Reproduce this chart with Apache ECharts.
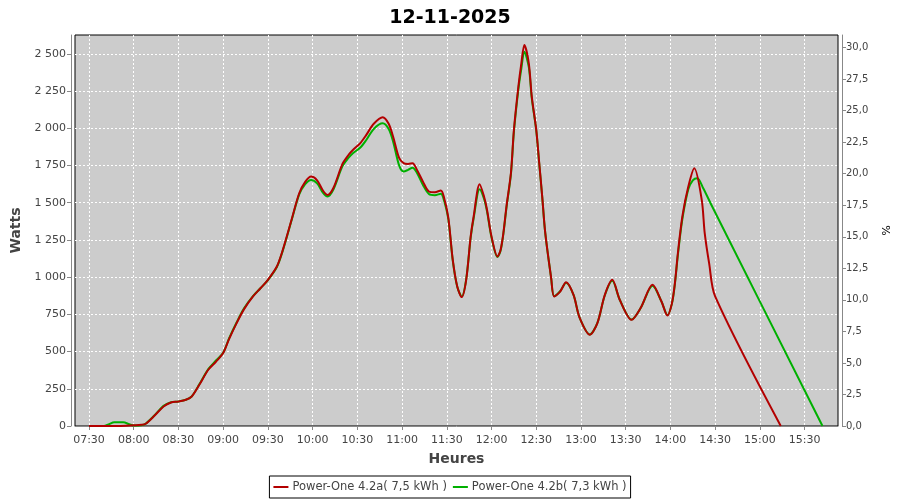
<!DOCTYPE html>
<html>
<head>
<meta charset="utf-8">
<script src="https://cdn.jsdelivr.net/npm/echarts@6/dist/echarts.min.js"></script>
<style>
  html, body { margin: 0; padding: 0; background: #fff; }
  #main { width: 900px; height: 500px; }
</style>
</head>
<body>
<div id="main"></div>
<script>
// time labels shown on the x axis
const tickTimes = ['07:30', '08:00', '08:30', '09:00', '09:30', '10:00', '10:30', '11:00', '11:30',
  '12:00', '12:30', '13:00', '13:30', '14:00', '14:30', '15:00', '15:30']
// left (Watts) and right (%) tick values
const wattTicks = [0, 250, 500, 750, 1000, 1250, 1500, 1750, 2000, 2250, 2500]
const pctTicks = [0, 2.5, 5, 7.5, 10, 12.5, 15, 17.5, 20, 22.5, 25, 27.5, 30]

// Power-One 4.2a (red)
const redTimes = ['07:30', '07:40', '07:50', '08:00', '08:05', '08:08', '08:14', '08:20', '08:25', '08:30',
  '08:35', '08:39', '08:44', '08:50', '08:55', '09:00', '09:04', '09:09', '09:14', '09:20',
  '09:25', '09:30', '09:36', '09:40', '09:46', '09:51', '09:55', '09:59', '10:03', '10:07',
  '10:10', '10:14', '10:20', '10:24', '10:27', '10:32', '10:36', '10:41', '10:47', '10:51',
  '10:54', '10:58', '11:01', '11:04', '11:07', '11:10', '11:14', '11:18', '11:22', '11:26',
  '11:28', '11:31', '11:34', '11:37', '11:40', '11:43', '11:46', '11:48', '11:52', '11:55',
  '11:57', '12:00', '12:04', '12:06', '12:08', '12:10', '12:13', '12:15', '12:18', '12:20',
  '12:22', '12:25', '12:27', '12:30', '12:32', '12:34', '12:36', '12:40', '12:42', '12:46',
  '12:50', '12:55', '12:59', '13:06', '13:11', '13:16', '13:21', '13:26', '13:34', '13:40',
  '13:48', '13:54', '13:58', '14:01', '14:03', '14:05', '14:08', '14:12', '14:16', '14:21',
  '14:23', '14:26', '14:30', '15:14']
const redWatts = [0, 0, 0, 5, 8, 15, 70, 131, 158, 165,
  176, 199, 277, 378, 430, 490, 585, 691, 785, 870,
  925, 982, 1071, 1183, 1390, 1563, 1640, 1675, 1650, 1580,
  1552, 1600, 1760, 1820, 1854, 1900, 1955, 2030, 2074, 2030,
  1943, 1800, 1765, 1760, 1765, 1720, 1641, 1575, 1570, 1581,
  1540, 1400, 1116, 937, 866, 982, 1272, 1407, 1624, 1540,
  1451, 1272, 1138, 1180, 1300, 1474, 1698, 1988, 2280, 2436,
  2559, 2436, 2212, 1989, 1765, 1541, 1300, 993, 870, 903,
  966, 881, 730, 613, 691, 881, 982, 848, 713, 792,
  948, 836, 742, 825, 960, 1161, 1407, 1608, 1731, 1519,
  1295, 1090, 870, 0]

// Power-One 4.2b (green)
const greenTimes = ['07:30', '07:40', '07:43', '07:47', '07:53', '07:57', '08:00', '08:05', '08:08', '08:14',
  '08:20', '08:25', '08:30', '08:35', '08:39', '08:44', '08:50', '08:55', '09:00', '09:04',
  '09:09', '09:14', '09:20', '09:25', '09:30', '09:36', '09:40', '09:46', '09:51', '09:55',
  '09:59', '10:03', '10:07', '10:10', '10:14', '10:20', '10:24', '10:27', '10:32', '10:36',
  '10:41', '10:47', '10:51', '10:54', '10:58', '11:01', '11:04', '11:07', '11:10', '11:14',
  '11:18', '11:22', '11:26', '11:28', '11:31', '11:34', '11:37', '11:40', '11:43', '11:46',
  '11:48', '11:52', '11:55', '11:57', '12:00', '12:04', '12:06', '12:08', '12:10', '12:13',
  '12:15', '12:18', '12:20', '12:22', '12:25', '12:27', '12:30', '12:32', '12:34', '12:36',
  '12:40', '12:42', '12:46', '12:50', '12:55', '12:59', '13:06', '13:11', '13:16', '13:21',
  '13:26', '13:34', '13:40', '13:48', '13:54', '13:58', '14:01', '14:03', '14:05', '14:08',
  '14:12', '14:15', '14:18', '14:22', '14:28', '15:42']
const greenWatts = [0, 0, 10, 25, 25, 12, 3, 5, 15, 72,
  135, 160, 165, 176, 200, 280, 382, 438, 492, 590,
  695, 790, 872, 925, 980, 1068, 1178, 1385, 1555, 1625,
  1653, 1630, 1565, 1541, 1590, 1745, 1800, 1832, 1870, 1921,
  1995, 2033, 1995, 1910, 1750, 1709, 1720, 1735, 1700, 1619,
  1558, 1550, 1560, 1520, 1390, 1110, 935, 870, 985, 1265,
  1395, 1590, 1525, 1440, 1265, 1135, 1175, 1295, 1465, 1690,
  1975, 2260, 2400, 2514, 2410, 2200, 1985, 1760, 1538, 1298,
  993, 872, 905, 962, 880, 730, 615, 692, 878, 975,
  848, 715, 792, 942, 836, 745, 822, 955, 1150, 1390,
  1590, 1650, 1664, 1597, 1474, 0]

const toMin = t => {
  const p = t.split(':')
  return +p[0] * 60 + +p[1]
}
const toLabel = m => {
  const h = Math.floor(m / 60)
  const mm = Math.round(m - h * 60)
  return String(h).padStart(2, '0') + ':' + String(mm).padStart(2, '0')
}
const pairs = (times, vals) => times.map((t, i) => [toMin(t), vals[i]])

const tickValues = tickTimes.map(toMin)
const axisColor = '#888'
const labelColor = '#444'
const font = 'DejaVu Sans'
const gridLine = {show: true, lineStyle: {color: '#fff', type: [2, 2], width: 1}}

const chart = echarts.init(document.getElementById('main'))
chart.setOption({
  animation: false,
  backgroundColor: '#fff',
  title: {
    text: '12-11-2025',
    left: 'center',
    top: 4,
    textStyle: {fontFamily: font, fontSize: 19, fontWeight: 'bold', color: '#000'}
  },
  legend: {
    bottom: 2,
    left: 'center',
    data: ['Power-One 4.2a( 7,5 kWh )', 'Power-One 4.2b( 7,3 kWh )'],
    icon: 'rect',
    itemWidth: 15,
    itemHeight: 2,
    itemGap: 6,
    padding: [5, 4],
    borderColor: '#000',
    borderWidth: 1,
    textStyle: {fontFamily: font, fontSize: 11.5, color: labelColor, padding: [0, 0, 0, -1]}
  },
  grid: {
    left: 75,
    top: 35,
    right: 62,
    bottom: 74,
    show: true,
    backgroundColor: '#cccccc',
    borderColor: '#000',
    borderWidth: 1
  },
  xAxis: {
    type: 'value',
    min: 440.6,
    max: 952.4,
    offset: 4,
    name: 'Heures',
    nameLocation: 'middle',
    nameGap: 22,
    nameTextStyle: {fontFamily: font, fontSize: 14, fontWeight: 'bold', color: labelColor},
    axisLine: {show: true, lineStyle: {color: axisColor}},
    axisTick: {show: true, length: 4, customValues: tickValues, lineStyle: {color: axisColor}},
    axisLabel: {
      customValues: tickValues,
      formatter: v => toLabel(v),
      fontFamily: font, fontSize: 11, color: labelColor, margin: 5
    },
    splitLine: gridLine
  },
  yAxis: [
    {
      type: 'value',
      min: 0,
      max: 2626,
      offset: 4,
      name: 'Watts',
      nameLocation: 'middle',
      nameGap: 39,
      nameRotate: 90,
      nameTextStyle: {fontFamily: font, fontSize: 14, fontWeight: 'bold', color: labelColor},
      axisLine: {show: true, lineStyle: {color: axisColor}},
      axisTick: {show: true, length: 4, customValues: wattTicks, lineStyle: {color: axisColor}},
      axisLabel: {
        customValues: wattTicks,
        formatter: v => String(v).replace(/\B(?=(\d{3})+(?!\d))/g, ' '),
        fontFamily: font, fontSize: 11, color: labelColor, margin: 5
      },
      splitLine: gridLine
    },
    {
      type: 'value',
      position: 'right',
      min: 0,
      max: 31,
      offset: 4,
      name: '%',
      nameLocation: 'middle',
      nameGap: 33,
      nameRotate: -90,
      nameTextStyle: {fontFamily: font, fontSize: 11, color: '#000'},
      axisLine: {show: true, lineStyle: {color: axisColor}},
      axisTick: {show: true, length: 4, customValues: pctTicks, lineStyle: {color: axisColor}},
      axisLabel: {
        customValues: pctTicks,
        formatter: v => v.toFixed(1).replace('.', ','),
        fontFamily: font, fontSize: 10, color: labelColor, margin: 4
      },
      splitLine: {show: false}
    }
  ],
  series: [
    {
      name: 'Power-One 4.2a( 7,5 kWh )',
      type: 'line',
      z: 3,
      data: pairs(redTimes, redWatts),
      smooth: 0.3,
      showSymbol: false,
      color: '#b30000',
      lineStyle: {width: 2, color: '#b30000'}
    },
    {
      name: 'Power-One 4.2b( 7,3 kWh )',
      type: 'line',
      z: 2,
      data: pairs(greenTimes, greenWatts),
      smooth: 0.3,
      showSymbol: false,
      color: '#00b000',
      lineStyle: {width: 2, color: '#00b000'}
    }
  ]
})
</script>
</body>
</html>
